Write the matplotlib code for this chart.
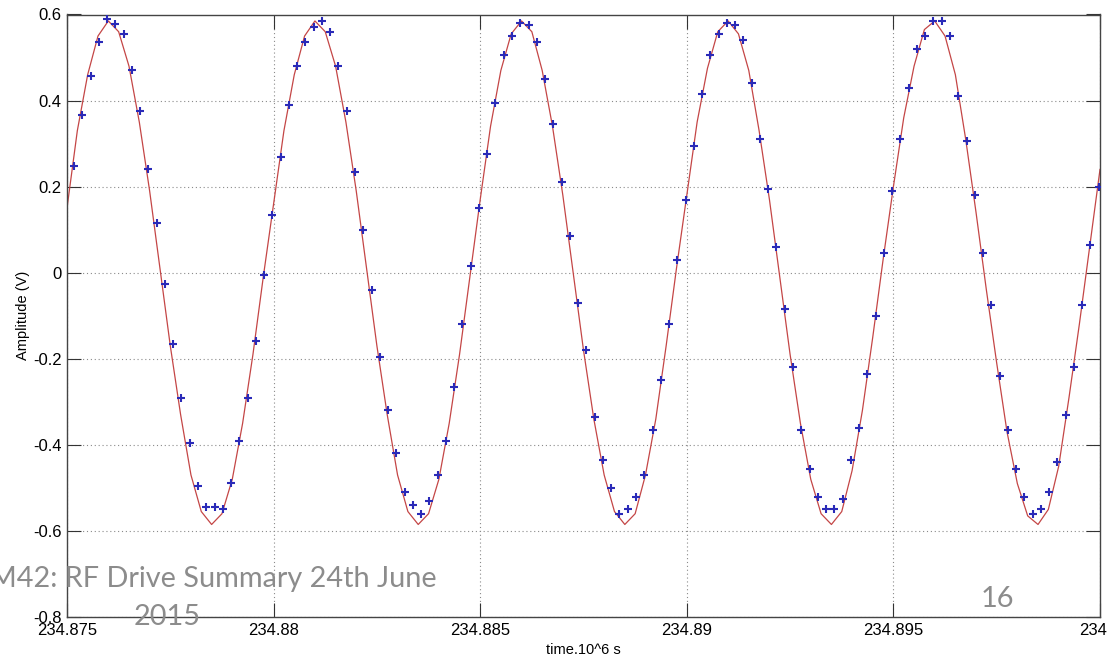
import numpy as np
import matplotlib
matplotlib.use("Agg")
import matplotlib.pyplot as plt

# time axis in microseconds
t_start = 234.875
t_end = 234.9

# measured samples (blue markers), every 0.0002 us
sample_t0 = 234.87517
sample_dt = 0.0002
samples = [
    # cycle 1
    0.247, 0.366, 0.458, 0.535, 0.590, 0.577, 0.554, 0.470, 0.375, 0.240,
    0.116, -0.026, -0.166, -0.292, -0.396, -0.496, -0.545, -0.545, -0.550, -0.488,
    -0.391, -0.292, -0.158, -0.005, 0.134,
    # cycle 2
    0.270, 0.390, 0.480, 0.535, 0.570, 0.585, 0.560, 0.480, 0.375, 0.235,
    0.100, -0.040, -0.195, -0.320, -0.420, -0.510, -0.540, -0.560, -0.530, -0.470,
    -0.390, -0.265, -0.120, 0.015, 0.150,
    # cycle 3
    0.275, 0.395, 0.505, 0.550, 0.580, 0.575, 0.535, 0.450, 0.345, 0.210,
    0.085, -0.070, -0.180, -0.335, -0.435, -0.500, -0.560, -0.550, -0.520, -0.470,
    -0.365, -0.250, -0.120, 0.030, 0.170,
    # cycle 4
    0.295, 0.415, 0.505, 0.555, 0.580, 0.575, 0.540, 0.440, 0.310, 0.195,
    0.060, -0.085, -0.220, -0.365, -0.455, -0.520, -0.550, -0.550, -0.525, -0.435,
    -0.360, -0.235, -0.100, 0.045, 0.190,
    # cycle 5
    0.310, 0.430, 0.520, 0.550, 0.585, 0.585, 0.550, 0.410, 0.305, 0.180,
    0.045, -0.075, -0.240, -0.365, -0.455, -0.520, -0.560, -0.550, -0.510, -0.440,
    -0.330, -0.220, -0.075, 0.065, 0.200,
]

# fitted curve (red line), every 0.00025 us
fit_t0 = 234.875
fit_dt = 0.00025
fit = [
    0.15, 0.33, 0.46, 0.55, 0.585, 0.56, 0.48, 0.35, 0.19, 0.01,
    -0.17, -0.33, -0.47, -0.555, -0.585, -0.56, -0.48, -0.35, -0.19, -0.01,
    0.16, 0.33, 0.46, 0.55, 0.585, 0.56, 0.48, 0.35, 0.19, 0.01,
    -0.17, -0.33, -0.47, -0.555, -0.585, -0.56, -0.48, -0.35, -0.19, -0.01,
    0.17, 0.34, 0.47, 0.555, 0.585, 0.56, 0.47, 0.34, 0.18, 0.0,
    -0.18, -0.34, -0.47, -0.555, -0.585, -0.56, -0.47, -0.34, -0.17, 0.01,
    0.18, 0.35, 0.475, 0.56, 0.585, 0.555, 0.47, 0.33, 0.17, -0.01,
    -0.19, -0.35, -0.48, -0.56, -0.585, -0.555, -0.46, -0.32, -0.15, 0.03,
    0.20, 0.36, 0.48, 0.565, 0.585, 0.55, 0.46, 0.31, 0.14, -0.04,
    -0.21, -0.37, -0.49, -0.565, -0.585, -0.55, -0.45, -0.29, -0.12, 0.06,
    0.24,
]

x_ticks = [234.875, 234.88, 234.885, 234.89, 234.895, 234.9]
x_labels = ["234.875", "234.88", "234.885", "234.89", "234.895", "234.9"]
y_ticks = [-0.8, -0.6, -0.4, -0.2, 0, 0.2, 0.4, 0.6]
y_labels = ["-0.8", "-0.6", "-0.4", "-0.2", "0", "0.2", "0.4", "0.6"]

t_samples = sample_t0 + sample_dt * np.arange(len(samples))
t_fit = fit_t0 + fit_dt * np.arange(len(fit))

plt.rcParams["font.family"] = ["Liberation Sans", "DejaVu Sans"]

fig = plt.figure(figsize=(11.07, 6.63), dpi=100)
ax = fig.add_axes([67 / 1107, 1 - 617 / 663, (1100 - 67) / 1107, (617 - 14.5) / 663])

ax.plot(t_fit, fit, color="#c44646", lw=0.9, zorder=2)
ax.plot(t_samples, samples, ls="none", marker="+", ms=5.5, mew=1.5,
        color="#2a2ab8", zorder=3)

ax.set_xlim(t_start, t_end)
ax.set_ylim(-0.8, 0.6)
ax.set_xticks(x_ticks)
ax.set_xticklabels(x_labels)
ax.set_yticks(y_ticks)
ax.set_yticklabels(y_labels)
ax.tick_params(direction="in", length=10, width=0.8, color="#333333",
               labelsize=12, top=True, right=True, pad=4)
ax.grid(True, ls=(0, (1, 2.5)), color="#8a8a8a", lw=0.8)
for s in ax.spines.values():
    s.set_color("#444444")
    s.set_linewidth(1.0)

ax.set_ylabel("Amplitude (V)", fontsize=10.5, labelpad=2)
ax.set_xlabel("time.10^6 s", fontsize=10.5, labelpad=4)

# slide overlay text
fig.text(437 / 1107, 1 - 587 / 663, "M42: RF Drive Summary 24th June",
         ha="right", va="baseline", fontsize=20.8, color="#8c8c8c",
         family=["Lato", "DejaVu Sans"])
fig.text(167 / 1107, 1 - 625 / 663, "2015", ha="center", va="baseline",
         fontsize=20.8, color="#8c8c8c", family=["Lato", "DejaVu Sans"])
fig.text(997 / 1107, 1 - 607 / 663, "16", ha="center", va="baseline",
         fontsize=20.8, color="#8c8c8c", family=["Lato", "DejaVu Sans"])

fig.savefig("out.png", dpi=100)
